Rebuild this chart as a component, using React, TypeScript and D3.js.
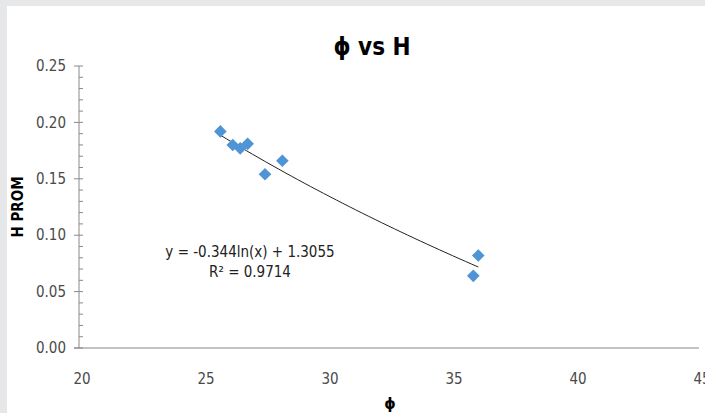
import { useEffect, useRef } from "react";
import * as d3 from "d3";

const phiValues = [25.7, 26.2, 26.5, 26.8, 27.5, 28.2, 35.9, 36.1];
const hValues = [0.192, 0.180, 0.177, 0.181, 0.154, 0.166, 0.064, 0.082];
const xTicks = [20, 25, 30, 35, 40, 45];
const yTicks = [0, 0.05, 0.1, 0.15, 0.2, 0.25];
const trendA = -0.344;
const trendB = 1.3055;
const equationLines = ["y = -0.344ln(x) + 1.3055", "R² = 0.9714"];

const W = 705;
const H = 413;
const FONT = "'DejaVu Sans Condensed', 'Liberation Sans Narrow', sans-serif";

const App = () => {
  const svgRef = useRef<SVGSVGElement>(null);

  useEffect(() => {
    const svg = d3.select(svgRef.current);
    svg.selectAll("*").remove();

    // gray frame left and top, white card
    svg.append("rect").attr("width", W).attr("height", H).attr("fill", "#e6e7e9");
    svg.append("rect").attr("x", 7).attr("y", 6).attr("width", W).attr("height", H).attr("fill", "#fff");

    const x = d3.scaleLinear().domain([20, 45]).range([79, 699]);
    const y = d3.scaleLinear().domain([0, 0.25]).range([348, 66]);

    // y axis, minor ticks every 0.01
    const yAxis = svg.append("g").attr("transform", `translate(${x(20)},0)`);
    yAxis.append("line").attr("y1", y(0)).attr("y2", y(0.25)).attr("stroke", "#898989");
    yAxis.selectAll("line.minor").data(d3.range(0, 0.2501, 0.01)).join("line")
      .attr("class", "minor")
      .attr("x1", 0).attr("x2", 4)
      .attr("y1", d => y(d)).attr("y2", d => y(d))
      .attr("stroke", "#898989");
    yAxis.selectAll("line.major").data(yTicks).join("line")
      .attr("class", "major")
      .attr("x1", -5).attr("x2", 0)
      .attr("y1", d => y(d)).attr("y2", d => y(d))
      .attr("stroke", "#898989");
    yAxis.selectAll("text").data(yTicks).join("text")
      .attr("x", -13).attr("y", d => y(d)).attr("dy", "0.35em")
      .attr("text-anchor", "end")
      .attr("font-family", FONT).attr("font-size", 15).attr("fill", "#4a4a4a")
      .text(d => d3.format(".2f")(d));

    // x axis
    const xAxis = svg.append("g").attr("transform", `translate(0,${y(0)})`);
    xAxis.append("line").attr("x1", x(20) - 5).attr("x2", x(45)).attr("stroke", "#898989");
    xAxis.selectAll("text").data(xTicks).join("text")
      .attr("x", d => x(d) + 3).attr("y", 36)
      .attr("text-anchor", "middle")
      .attr("font-family", FONT).attr("font-size", 15).attr("fill", "#4a4a4a")
      .text(d => d);

    // trendline drawn from the displayed equation
    const xr = d3.extent(phiValues) as [number, number];
    const line = d3.line<number>().x(d => x(d)).y(d => y(trendA * Math.log(d) + trendB));
    svg.append("path")
      .datum(d3.range(xr[0], xr[1] + 0.001, (xr[1] - xr[0]) / 40))
      .attr("d", line).attr("fill", "none").attr("stroke", "#222").attr("stroke-width", 1);

    // diamond markers
    svg.selectAll("path.pt").data(phiValues).join("path")
      .attr("class", "pt")
      .attr("transform", (d, i) => `translate(${x(d)},${y(hValues[i])}) rotate(45)`)
      .attr("d", d3.symbol().type(d3.symbolSquare).size(80)())
      .attr("fill", "#4f94d4");

    // equation label
    svg.selectAll("text.eq").data(equationLines).join("text")
      .attr("class", "eq")
      .attr("x", 250).attr("y", (d, i) => 257 + i * 20)
      .attr("text-anchor", "middle")
      .attr("font-family", FONT).attr("font-size", 15).attr("fill", "#222")
      .text(d => d);

    // titles
    svg.append("text").attr("x", 372).attr("y", 55).attr("text-anchor", "middle")
      .attr("font-family", FONT).attr("font-size", 24).attr("font-weight", "bold").attr("fill", "#000")
      .text("ϕ vs H");
    svg.append("text").attr("x", 390).attr("y", 409).attr("text-anchor", "middle")
      .attr("font-family", FONT).attr("font-size", 16).attr("font-weight", "bold").attr("fill", "#000")
      .text("ϕ");
    svg.append("text")
      .attr("transform", `translate(23,${y(0.125)}) rotate(-90)`)
      .attr("text-anchor", "middle")
      .attr("font-family", FONT).attr("font-size", 15).attr("font-weight", "bold").attr("fill", "#000")
      .text("H PROM");
  }, []);

  return (
    <svg ref={svgRef} width={W} height={H}
      style={{ position: "absolute", left: 0, top: 0, display: "block" }} />
  );
};

export default App;
